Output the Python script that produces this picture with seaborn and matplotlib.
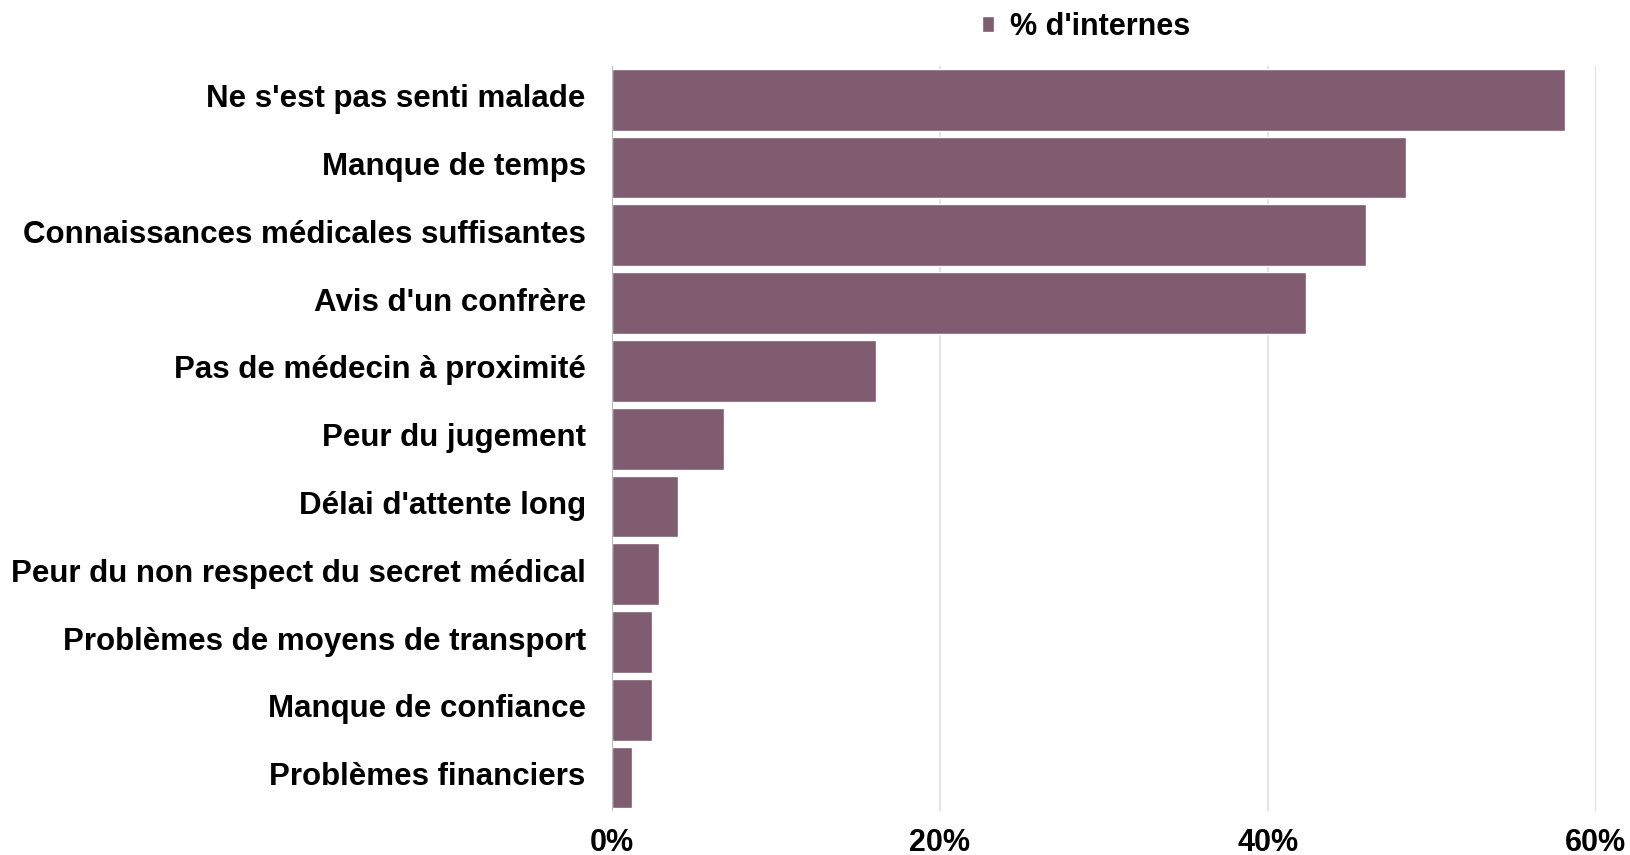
import matplotlib
matplotlib.use("Agg")
import matplotlib.pyplot as plt
import matplotlib.transforms as mtransforms
import pandas as pd
import seaborn as sns

# Raisons de non-consultation (en %)
raisons = [
    "Ne s'est pas senti malade",
    "Manque de temps",
    "Connaissances médicales suffisantes",
    "Avis d'un confrère",
    "Pas de médecin à proximité",
    "Peur du jugement",
    "Délai d'attente long",
    "Peur du non respect du secret médical",
    "Problèmes de moyens de transport",
    "Manque de confiance",
    "Problèmes financiers",
]
pct_internes = [58.1, 48.4, 46.0, 42.3, 16.1, 6.8, 4.05, 2.85, 2.42, 2.42, 1.22]
x_ticks = [0, 20, 40, 60]
x_tick_labels = ["0%", "20%", "40%", "60%"]
serie_label = "% d'internes"

df = pd.DataFrame({"raison": raisons, "pct": pct_internes})

sns.set_theme(style="white")
plt.rcParams["font.family"] = ["Liberation Sans", "DejaVu Sans"]

fig = plt.figure(figsize=(16.30, 8.55), dpi=100)
ax = fig.add_axes([0.3755, 0.0509, 0.979 - 0.3755, 0.923 - 0.0509])

bar_color = "#7f5c6f"
sns.barplot(data=df, x="pct", y="raison", orient="h", color=bar_color,
            width=0.91, ax=ax, label=serie_label, saturation=1)

ax.set_xlim(0, 60)
ax.set_ylim(len(raisons) - 0.5, -0.5)
ax.set_xticks(x_ticks)
ax.set_xticklabels(x_tick_labels)
ax.set_xlabel("")
ax.set_ylabel("")

# gridlines
for x in x_ticks[1:]:
    ax.axvline(x, color="#dddddd", lw=1.2, zorder=0)
ax.axvline(0, color="#bbbbbb", lw=1.5, zorder=3)
for s in ax.spines.values():
    s.set_visible(False)

ax.tick_params(axis="y", length=0, pad=19)
ax.tick_params(axis="x", length=0, pad=12)
shift_up = mtransforms.ScaledTranslation(0, 0.04, fig.dpi_scale_trans)
for lab in ax.get_yticklabels():
    lab.set_fontsize(22.5)
    lab.set_fontweight("bold")
    lab.set_color("black")
    lab.set_transform(lab.get_transform() + shift_up)
for lab in ax.get_xticklabels():
    lab.set_family(["Liberation Sans Narrow", "Liberation Sans", "DejaVu Sans"])
    lab.set_fontsize(22)
    lab.set_fontweight("bold")
    lab.set_color("black")

handles, labels = ax.get_legend_handles_labels()
leg = ax.legend(handles[:1], labels[:1], loc="center",
                bbox_to_anchor=(1086 / 1630, 1 - 27 / 855),
                bbox_transform=fig.transFigure, frameon=False,
                prop={"size": 22, "weight": "bold"},
                handlelength=0.4, handleheight=0.4, handletextpad=0.5)
for t in leg.get_texts():
    t.set_color("black")

fig.savefig("out.png", dpi=100)
